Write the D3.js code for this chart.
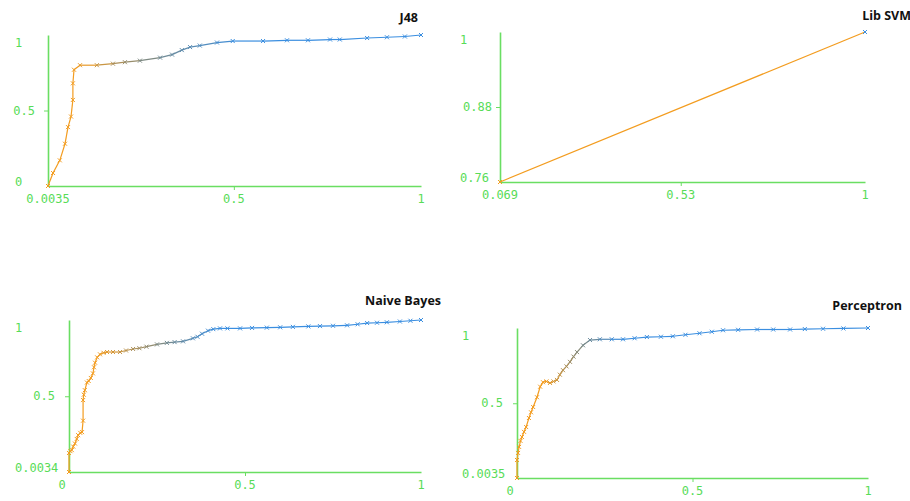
<!DOCTYPE html>
<html>
<head>
<meta charset="utf-8">
<script src="https://cdn.jsdelivr.net/npm/d3@7"></script>
<style>
  body { margin: 0; background: #fff; }
  svg { display: block; }
</style>
</head>
<body>
<div id="chart"></div>
<script>
// curve values (false positive rate, true positive rate)
const j48X = [0.0035, 0.017, 0.035, 0.049, 0.057, 0.065, 0.07, 0.07, 0.073, 0.089, 0.134, 0.177, 0.209, 0.249,
  0.303, 0.335, 0.361, 0.383, 0.409, 0.455, 0.497, 0.578, 0.642, 0.698, 0.757, 0.783, 0.856, 0.909, 0.957, 1];
const j48Y = [0, 0.086, 0.17, 0.28, 0.39, 0.46, 0.57, 0.68, 0.77, 0.8, 0.8, 0.81, 0.82, 0.83,
  0.85, 0.87, 0.9, 0.92, 0.93, 0.95, 0.96, 0.96, 0.965, 0.965, 0.97, 0.97, 0.98, 0.985, 0.99, 1];

const svmX = [0.069, 1];
const svmY = [0.76, 1];

const nbX = [0, 0, 0.004, 0.008, 0.012, 0.017, 0.022, 0.026, 0.032, 0.037, 0.04, 0.04, 0.042, 0.045, 0.051,
  0.056, 0.062, 0.068, 0.071, 0.074, 0.08, 0.088, 0.098, 0.108, 0.125, 0.145, 0.162, 0.182, 0.2, 0.22, 0.25,
  0.278, 0.3, 0.324, 0.352, 0.365, 0.378, 0.395, 0.41, 0.429, 0.45, 0.486, 0.52, 0.562, 0.6, 0.636, 0.68,
  0.713, 0.75, 0.79, 0.82, 0.847, 0.875, 0.903, 0.94, 0.97, 1];
const nbY = [0.0034, 0.128, 0.14, 0.147, 0.17, 0.19, 0.22, 0.245, 0.26, 0.265, 0.34, 0.475, 0.51, 0.54, 0.59,
  0.6, 0.62, 0.65, 0.69, 0.72, 0.755, 0.775, 0.785, 0.79, 0.79, 0.79, 0.8, 0.81, 0.815, 0.825, 0.84,
  0.85, 0.855, 0.86, 0.88, 0.89, 0.91, 0.93, 0.94, 0.945, 0.945, 0.945, 0.948, 0.95, 0.952, 0.955, 0.958,
  0.96, 0.962, 0.965, 0.972, 0.98, 0.982, 0.985, 0.99, 0.995, 1];

const percX = [0, 0, 0.003, 0.006, 0.01, 0.014, 0.02, 0.026, 0.034, 0.04, 0.046, 0.057, 0.066, 0.074, 0.084,
  0.094, 0.104, 0.114, 0.122, 0.131, 0.141, 0.151, 0.161, 0.171, 0.188, 0.208, 0.236, 0.27, 0.302, 0.335,
  0.37, 0.41, 0.444, 0.48, 0.52, 0.555, 0.587, 0.63, 0.684, 0.73, 0.778, 0.82, 0.872, 0.93, 1];
const percY = [0.0035, 0.123, 0.17, 0.21, 0.25, 0.276, 0.31, 0.342, 0.402, 0.44, 0.475, 0.54, 0.61, 0.64, 0.645,
  0.635, 0.645, 0.655, 0.69, 0.72, 0.745, 0.775, 0.81, 0.84, 0.885, 0.92, 0.925, 0.925, 0.925, 0.932,
  0.94, 0.942, 0.945, 0.955, 0.965, 0.975, 0.985, 0.988, 0.99, 0.99, 0.99, 0.993, 0.995, 0.997, 1];

// tick labels: [min, mid, max]
const j48XTicks = ["0.0035", "0.5", "1"];
const j48YTicks = ["0", "0.5", "1"];
const svmXTicks = ["0.069", "0.53", "1"];
const svmYTicks = ["0.76", "0.88", "1"];
const nbXTicks = ["0", "0.5", "1"];
const nbYTicks = ["0.0034", "0.5", "1"];
const percXTicks = ["0", "0.5", "1"];
const percYTicks = ["0.0035", "0.5", "1"];

const titles = ["J48", "Lib SVM", "Naive Bayes", "Perceptron"];

const width = 910, height = 501;
const ORANGE = "#f39c1f", GREY = "#7d8a84", BLUE = "#3a8ee0";
const AXIS = "#6ade62", LABEL = "#58dc58";

// panel layout (pixels) and colour stops along x
const panels = [
  { x: j48X, y: j48Y, xt: j48XTicks, yt: j48YTicks, left: 48, right: 421, top: 35, bottom: 186,
    labelLeft: 15, midGap: 13, minDx: 0, titleX: 418, titleY: 22, stops: [0.07, 0.25, 0.5] },
  { x: svmX, y: svmY, xt: svmXTicks, yt: svmYTicks, left: 500, right: 865, top: 32, bottom: 182,
    labelLeft: 460, midGap: 8, minDx: 0, titleX: 911, titleY: 20, stops: [0.9, 0.95, 1] },
  { x: nbX, y: nbY, xt: nbXTicks, yt: nbYTicks, left: 69, right: 421, top: 320, bottom: 472,
    labelLeft: 15, midGap: 14, minDx: -7, titleX: 441, titleY: 305, stops: [0.08, 0.25, 0.42] },
  { x: percX, y: percY, xt: percXTicks, yt: percYTicks, left: 517, right: 868, top: 328, bottom: 478,
    labelLeft: 462, midGap: 14, minDx: -7, titleX: 902, titleY: 310, stops: [0.08, 0.18, 0.28] }
];

const svg = d3.select("#chart")
  .append("svg")
  .attr("width", width)
  .attr("height", height);

panels.forEach((p, i) => {
  const xVals = p.xt.map(Number), yVals = p.yt.map(Number);
  const x = d3.scaleLinear().domain([xVals[0], xVals[2]]).range([p.left, p.right]);
  const y = d3.scaleLinear().domain([yVals[0], yVals[2]]).range([p.bottom, p.top]);
  const color = d3.scaleLinear().domain(p.stops).range([ORANGE, GREY, BLUE]).clamp(true);

  const g = svg.append("g");

  // axes: just the lines and a short tick at the mid value
  const xAxis = g.append("g")
    .attr("transform", `translate(0,${p.bottom})`)
    .call(d3.axisBottom(x).tickValues([xVals[1]]).tickSize(4).tickSizeOuter(0).tickFormat(""));
  const yAxis = g.append("g")
    .attr("transform", `translate(${p.left},0)`)
    .call(d3.axisLeft(y).tickValues([yVals[1]]).tickSize(4).tickSizeOuter(0).tickFormat(""));
  [xAxis, yAxis].forEach(a => {
    a.select(".domain").attr("stroke", AXIS).attr("stroke-width", 1.6);
    a.selectAll(".tick line").attr("stroke", AXIS).attr("stroke-width", 1);
  });

  const lab = g.append("g")
    .style("font-family", "'DejaVu Sans Mono', monospace")
    .style("font-size", "12px")
    .attr("fill", LABEL);

  // x labels
  lab.selectAll("text.xl")
    .data(xVals)
    .enter()
    .append("text")
    .attr("class", "xl")
    .attr("x", (d, k) => x(d) + (k === 0 ? p.minDx : 0))
    .attr("y", p.bottom + 13)
    .attr("dy", "0.35em")
    .attr("text-anchor", "middle")
    .text((d, k) => p.xt[k]);

  // y labels: min and max at the left edge, mid next to the axis
  lab.selectAll("text.yl")
    .data(yVals)
    .enter()
    .append("text")
    .attr("class", "yl")
    .attr("x", (d, k) => k === 1 ? p.left - p.midGap : p.labelLeft)
    .attr("y", (d, k) => y(d) + (k === 0 ? -4 : k === 2 ? 8 : 0))
    .attr("dy", "0.35em")
    .attr("text-anchor", (d, k) => k === 1 ? "end" : "start")
    .text((d, k) => p.yt[k]);

  // curve: segments coloured by position
  const pts = p.x.map((v, k) => ({ x: v, y: p.y[k] }));
  g.append("g")
    .selectAll("line")
    .data(d3.pairs(pts))
    .enter()
    .append("line")
    .attr("x1", d => x(d[0].x))
    .attr("y1", d => y(d[0].y))
    .attr("x2", d => x(d[1].x))
    .attr("y2", d => y(d[1].y))
    .attr("stroke", d => color(d[0].x))
    .attr("stroke-width", 1.2);

  // x-shaped markers
  const s = 2;
  g.append("g")
    .selectAll("path")
    .data(pts)
    .enter()
    .append("path")
    .attr("d", d => {
      const cx = x(d.x), cy = y(d.y);
      return `M${cx - s},${cy - s}L${cx + s},${cy + s}M${cx - s},${cy + s}L${cx + s},${cy - s}`;
    })
    .attr("stroke", d => color(d.x))
    .attr("stroke-width", 1)
    .attr("fill", "none");

  // title
  svg.append("text")
    .attr("x", p.titleX)
    .attr("y", p.titleY)
    .attr("text-anchor", "end")
    .style("font-family", "'Open Sans', sans-serif")
    .style("font-weight", "bold")
    .style("font-size", "12.5px")
    .attr("fill", "#111")
    .text(titles[i]);
});
</script>
</body>
</html>
